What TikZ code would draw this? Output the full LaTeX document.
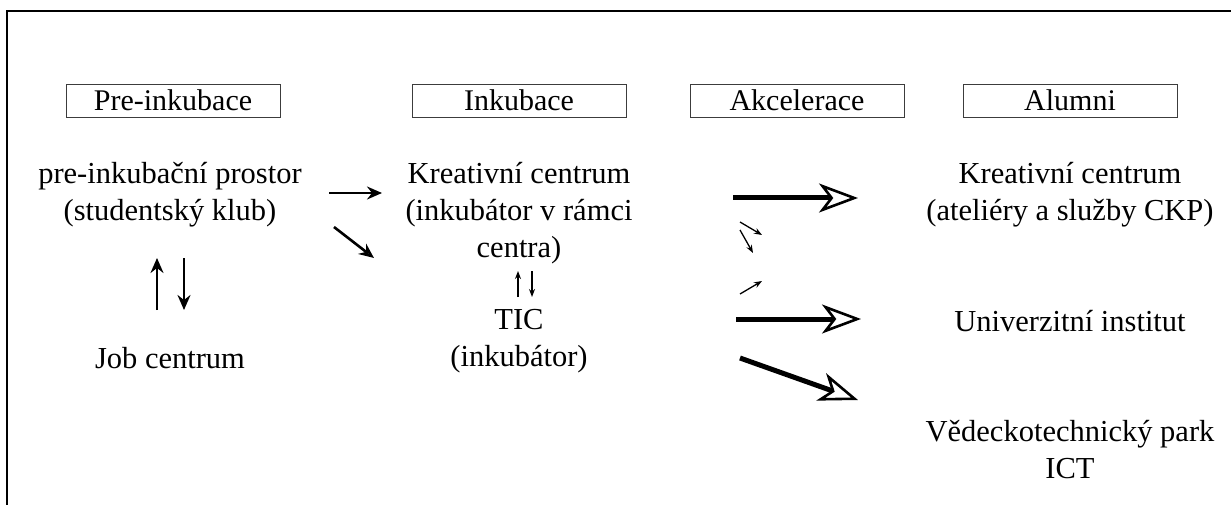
\documentclass[tikz,border=0pt]{standalone}
\usepackage{fontspec}
\setmainfont{Liberation Serif}
\usetikzlibrary{arrows.meta, positioning}
\definecolor{boxgray}{RGB}{60,60,60}

\begin{document}
\begin{tikzpicture}[
    x=1pt, y=-1pt,
    >={Stealth[length=15pt, width=13pt, open, line width=2.4pt, inset=5pt]},
    phasebox/.style={draw=boxgray, line width=0.9pt, minimum width=214pt, minimum height=33pt, inner sep=0pt, font=\fontsize{30}{36}\selectfont},
    labeltext/.style={align=center, inner sep=0pt, font=\fontsize{30.5}{37}\selectfont},
    thinarrow/.style={->, line width=2.6pt},
    tinyarrow/.style={-{Stealth[length=8pt, width=6pt]}, line width=1.3pt},
    bigarrow/.style={-{Stealth[open, length=39pt, width=29pt, inset=11pt, line width=2.6pt]}, line width=5pt},
]
    \useasboundingbox (0,0) rectangle (1231,505);
    \draw[line width=1.6pt] (1231,11) -- (7,11) -- (7,505);

    \node[phasebox] (preink) at (173,100.5) {Pre-inkubace};
    \node[phasebox] (ink) at (519,100.5) {Inkubace};
    \node[phasebox] (akcel) at (797,100.5) {Akcelerace};
    \node[phasebox] (alumni) at (1070,100.5) {Alumni};

    \node[labeltext] (prostor) at (170,195) {pre-inkubační prostor\\(studentský klub)};
    \node[labeltext] (job) at (170,358) {Job centrum};
    \node[labeltext] (kreativ) at (519,213) {Kreativní centrum\\(inkubátor v rámci\\centra)};
    \node[labeltext] (tic) at (519,341) {TIC\\(inkubátor)};
    \node[labeltext] (kreativalum) at (1070,195) {Kreativní centrum\\(ateliéry a služby CKP)};
    \node[labeltext] (univ) at (1070,321) {Univerzitní institut};
    \node[labeltext] (vtp) at (1070,450) {Vědeckotechnický park\\ICT};

    \coordinate (jobup1) at (157,310);
    \coordinate (jobup2) at (157,258);
    \coordinate (jobdn1) at (184,258);
    \coordinate (jobdn2) at (184,310);
    \draw[thinarrow] (jobup1) -- (jobup2);
    \draw[thinarrow] (jobdn1) -- (jobdn2);

    \coordinate (pre1) at (329,193);
    \coordinate (pre2) at (382,193);
    \coordinate (pre3) at (334,227);
    \coordinate (pre4) at (374,258);
    \draw[thinarrow] (pre1) -- (pre2);
    \draw[thinarrow] (pre3) -- (pre4);

    \coordinate (ticup1) at (518,297);
    \coordinate (ticup2) at (518,271);
    \coordinate (ticdn1) at (532,271);
    \coordinate (ticdn2) at (532,297);
    \draw[tinyarrow] (ticup1) -- (ticup2);
    \draw[tinyarrow] (ticdn1) -- (ticdn2);

    \coordinate (acc1) at (733,198);
    \coordinate (acc2) at (858,198);
    \coordinate (acc3) at (736,319);
    \coordinate (acc4) at (861,319);
    \coordinate (acc5) at (740,358);
    \coordinate (acc6) at (858,400);
    \draw[bigarrow] (acc1) -- (acc2);
    \draw[bigarrow] (acc3) -- (acc4);
    \draw[bigarrow] (acc5) -- (acc6);

    \coordinate (sm1) at (740,222);
    \coordinate (sm2) at (762,235);
    \coordinate (sm3) at (740,230);
    \coordinate (sm4) at (753,253);
    \coordinate (sm5) at (740,294);
    \coordinate (sm6) at (762,281);
    \draw[tinyarrow] (sm1) -- (sm2);
    \draw[tinyarrow] (sm3) -- (sm4);
    \draw[tinyarrow] (sm5) -- (sm6);
\end{tikzpicture}
\end{document}
